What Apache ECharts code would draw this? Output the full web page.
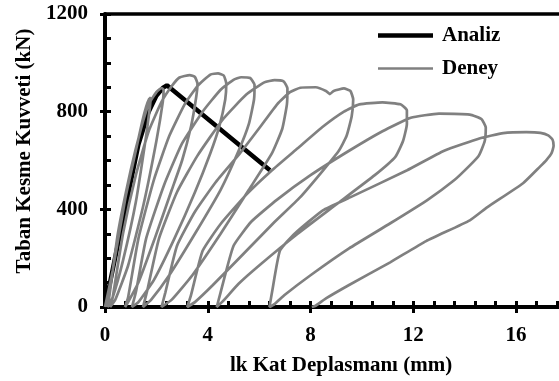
<!DOCTYPE html>
<html><head><meta charset="utf-8">
<script src="https://cdn.jsdelivr.net/npm/echarts@6/dist/echarts.min.js"></script>
<style>html,body{margin:0;padding:0;background:#fff}#c{width:559px;height:381px}</style>
</head><body><div id="c"></div>
<script>
// Analysis (Analiz) curve: displacement (mm), base shear (kN)
const analizX = [0, 1.3, 1.7, 2.0, 2.25, 2.41, 6.42];
const analizF = [0, 665, 800, 865, 897, 908, 560];

// Test (Deney) hysteresis, cycle by cycle: [displacement mm, base shear kN]
const cycle1 = [[0,0],[0.3,150],[0.8,450],[1.2,640],[1.45,760],[1.6,820],[1.72,852],[1.78,858],[1.75,820],[1.6,700],[1.2,430],[0.7,190],[0.3,40],[0.1,0]];
const cycle2 = [[0.15,30],[0.5,300],[1.0,560],[1.4,730],[1.7,830],[2.0,880],[2.2,897],[2.28,890],[2.25,840],[2.0,680],[1.5,420],[0.9,170],[0.4,30],[0.2,0]];
const cycle3 = [[0.3,40],[0.7,300],[1.2,540],[1.7,720],[2.2,840],[2.6,905],[2.9,940],[3.3,950],[3.5,942],[3.6,915],[3.55,860],[3.35,740],[3.0,600],[2.6,480],[1.9,270],[1.3,100],[0.9,20],[0.78,0]];
const cycle4 = [[0.9,40],[1.3,280],[1.9,520],[2.5,700],[3.1,830],[3.6,905],[4.1,952],[4.4,957],[4.62,948],[4.72,915],[4.68,850],[4.45,740],[4.1,630],[3.5,470],[2.7,280],[1.9,110],[1.3,20],[1.05,0]];
const cycle5 = [[1.2,60],[1.6,280],[2.3,500],[3.0,670],[3.8,800],[4.5,890],[5.0,930],[5.3,941],[5.65,938],[5.82,910],[5.8,850],[5.6,750],[5.2,640],[4.5,480],[3.5,300],[2.5,130],[1.8,30],[1.48,0]];
const cycle6 = [[1.65,70],[2.1,280],[2.8,470],[3.6,620],[4.6,770],[5.5,870],[6.2,920],[6.6,929],[6.95,924],[7.1,895],[7.08,830],[6.9,730],[6.5,630],[5.6,480],[4.5,300],[3.4,130],[2.6,30],[2.2,0]];
const cycle7 = [[2.35,60],[2.8,250],[3.5,390],[4.3,510],[5.25,629],[6.03,736],[6.7,830],[7.2,880],[7.6,898],[8.2,900],[8.6,885],[8.75,872],[8.9,885],[9.3,895],[9.55,885],[9.66,850],[9.6,780],[9.4,700],[9.1,640],[8.49,560],[7.59,449],[6.54,342],[5.25,203],[4.2,90],[3.5,20],[3.2,0]];
const cycle8 = [[3.35,50],[3.8,230],[4.5,340],[5.5,460],[6.5,560],[7.5,650],[8.5,740],[9.3,800],[9.9,830],[10.8,838],[11.5,830],[11.75,805],[11.75,750],[11.6,680],[11.3,615],[10.5,540],[9.0,420],[7.5,300],[6.0,170],[5.2,95],[4.6,25],[4.35,0]];
const cycle9 = [[4.5,60],[5.0,250],[5.7,350],[6.7,440],[8.0,540],[9.5,640],[10.8,720],[11.9,775],[13.0,792],[14.2,788],[14.65,770],[14.82,735],[14.78,680],[14.55,620],[14.2,580],[13.6,520],[12.53,437],[11.09,342],[9.5,240],[8.0,130],[7.0,50],[6.6,12],[6.4,0]];
const cycle10 = [[6.5,60],[6.81,231],[7.39,301],[8.48,396],[9.54,449],[11.76,560],[13.2,640],[14.6,691],[15.5,712],[16.4,716],[16.95,713],[17.25,703],[17.42,685],[17.46,660],[17.38,630],[17.18,602],[16.93,575],[16.27,507],[14.87,408],[14.2,355],[12.5,270],[11.1,183],[9.5,90],[8.6,35],[8.2,5],[8.05,0],[8.12,2]];

const seriesNames = ['Analiz', 'Deney'];
const xTitle = 'lk Kat Deplasmanı (mm)';
const yTitle = 'Taban Kesme Kuvveti (kN)';

const deneyData = [].concat(cycle1, cycle2, cycle3, cycle4, cycle5, cycle6, cycle7, cycle8, cycle9, cycle10);
const analizData = analizX.map((x, i) => [x, analizF[i]]);

const font = 'Liberation Serif';
const XMAX = 17.67;
const chart = echarts.init(document.getElementById('c'), null, {renderer: 'canvas'});
chart.setOption({
  animation: false,
  backgroundColor: '#fff',
  grid: {left: 105, top: 14, right: 0, height: 293},
  legend: {
    orient: 'vertical', left: 378, top: 25, padding: 0, itemWidth: 55, itemHeight: 14, itemGap: 12,
    symbolKeepAspect: true,
    data: [
      {name: seriesNames[0], icon: 'path://M0,0H55V4.5H0Z'},
      {name: seriesNames[1], icon: 'path://M0,0H55V2.7H0Z'}
    ],
    textStyle: {fontFamily: font, fontWeight: 'bold', fontSize: 21, color: '#000', padding: [0,0,0,4]}
  },
  xAxis: [{
    type: 'value', min: 0, max: XMAX, interval: 4, position: 'bottom',
    name: xTitle, nameLocation: 'middle', nameGap: 48,
    nameTextStyle: {fontFamily: font, fontWeight: 'bold', fontSize: 21, color: '#000', padding: [0,0,0,18]},
    axisLine: {show: true, onZero: false, lineStyle: {color: '#000', width: 4}},
    axisTick: {show: true, inside: false, length: 6, lineStyle: {color: '#000', width: 3}},
    axisLabel: {margin: 18, fontFamily: font, fontWeight: 'bold', fontSize: 21, color: '#000', showMaxLabel: false},
    splitLine: {show: false}
  }, {
    type: 'value', min: 0, max: XMAX, interval: 0.8, position: 'bottom',
    axisLine: {show: false, onZero: false},
    axisTick: {show: true, inside: true, length: 6, lineStyle: {color: '#000', width: 3}},
    axisLabel: {show: false}, splitLine: {show: false}
  }, {
    type: 'value', min: 0, max: XMAX, position: 'top',
    axisLine: {show: true, onZero: false, lineStyle: {color: '#000', width: 3.5}},
    axisTick: {show: false}, axisLabel: {show: false}, splitLine: {show: false}
  }],
  yAxis: [{
    type: 'value', min: 0, max: 1200, interval: 400, position: 'left',
    name: yTitle, nameLocation: 'middle', nameGap: 63,
    nameTextStyle: {fontFamily: font, fontWeight: 'bold', fontSize: 21, color: '#000', padding: [0,0,0,19]},
    axisLine: {show: true, onZero: false, lineStyle: {color: '#000', width: 4}},
    axisTick: {show: true, inside: false, length: 5, lineStyle: {color: '#000', width: 3}},
    axisLabel: {margin: 17, fontFamily: font, fontWeight: 'bold', fontSize: 21, color: '#000', formatter: v => String(v)},
    splitLine: {show: false}
  }, {
    type: 'value', min: 0, max: 1200, interval: 100, position: 'left',
    axisLine: {show: false, onZero: false},
    axisTick: {show: true, inside: true, length: 6, lineStyle: {color: '#000', width: 3}},
    axisLabel: {show: false}, splitLine: {show: false}
  }],
  series: [{
    name: seriesNames[0], type: 'line', xAxisIndex: 0, yAxisIndex: 0, data: analizData,
    showSymbol: false, symbol: 'none', smooth: false,
    lineStyle: {color: '#000', width: 4.5}, itemStyle: {color: '#000'}
  }, {
    name: seriesNames[1], type: 'line', xAxisIndex: 0, yAxisIndex: 0, data: deneyData,
    showSymbol: false, symbol: 'none', smooth: 0.15,
    lineStyle: {color: '#808080', width: 2.7}, itemStyle: {color: '#808080'}
  }]
});
</script>
</body></html>
